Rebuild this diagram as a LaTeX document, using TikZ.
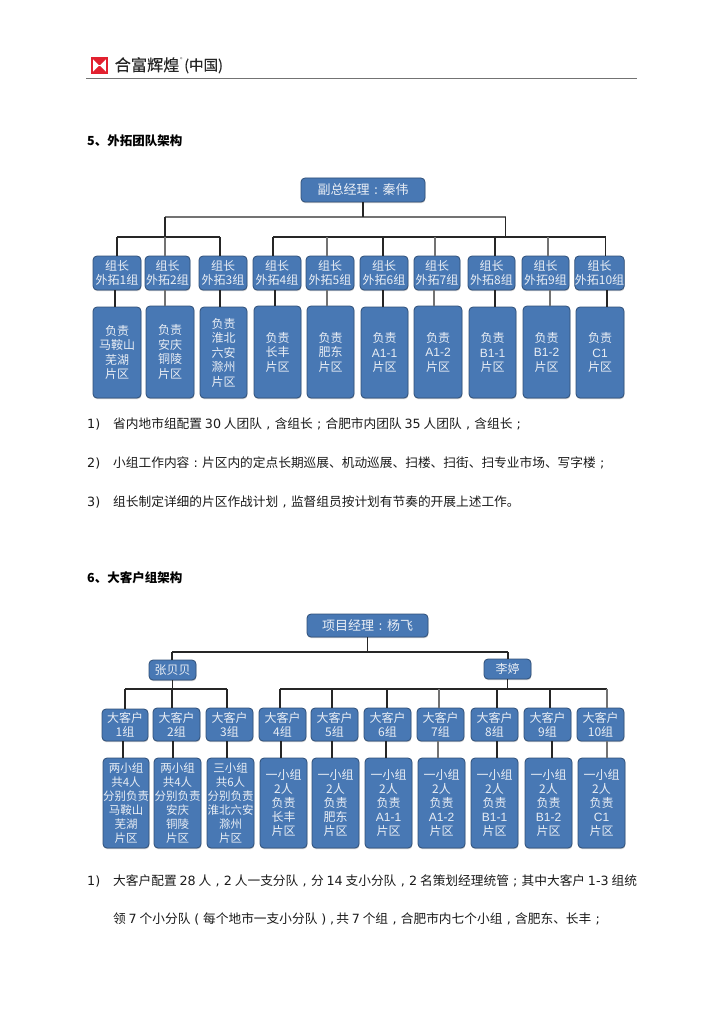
\documentclass[tikz,border=0pt]{standalone}
\usepackage{fontspec}
\usetikzlibrary{shadows}
\setmainfont{Noto Sans CJK SC}
\newfontfamily\lat{Liberation Sans}
\newfontfamily\numf{DejaVu Sans}
\newfontfamily\logof[FakeBold=0.35]{Noto Sans CJK SC}
\newcommand{\fc}[1]{\makebox[1em]{\numf #1}}
\definecolor{boxblue}{HTML}{4878B4}
\definecolor{boxedge}{HTML}{2F4F78}
\definecolor{boxtext}{HTML}{E9EEF5}
\definecolor{bodytext}{HTML}{1A1A1A}
\definecolor{logored}{HTML}{E2202F}
\tikzset{
  x=1pt,y=-1pt,
  orgbox/.style={draw=boxedge,fill=boxblue,rounded corners=4pt,line width=0.8pt,text=boxtext,align=center,inner sep=0pt,
    drop shadow={shadow xshift=0.4pt,shadow yshift=-1.2pt,fill=black!35,opacity=0.6},
    font=\fontsize{12}{14.5}\selectfont},
  tightbox/.style={orgbox,font=\fontsize{12}{14}\selectfont},
  widebox/.style={orgbox,font=\fontsize{11.5}{14}\selectfont},
  topbox/.style={orgbox,font=\fontsize{13}{15}\selectfont},
  darkline/.style={draw=black!85,line width=1.1pt},
  grayline/.style={draw=black!55,line width=1.2pt},
  plain/.style={anchor=base west,inner sep=0pt,text=bodytext,font=\fontsize{12.7}{14}\selectfont},
  head/.style={anchor=base west,inner sep=0pt,text=black,font=\fontsize{12.5}{14}\bfseries\selectfont},
}
\newcommand{\bx}[7]{\node[#6,minimum width=#4pt-#2pt,minimum height=#5pt-#3pt] (#1) at ({(#2+#4)/2},{(#3+#5)/2}) {#7};}
\begin{document}
\begin{tikzpicture}
\useasboundingbox (0,0) rectangle (724,1024);
% header
\fill[logored] (91,57) rectangle (108,74);
\fill[white] (92.8,58.8) rectangle (106.2,72.2);
\fill[logored] (92.8,58.8) -- (106.2,58.8) -- (100.3,64.8) -- (98.7,64.8) -- cycle;
\fill[logored] (92.8,72.2) -- (106.2,72.2) -- (100.3,66.2) -- (98.7,66.2) -- cycle;
\node[anchor=base west,inner sep=0pt,text=black!85,font=\fontsize{16.2}{18}\logof\selectfont] (logotext) at (114.5,71) {合富辉煌};
\node[anchor=west,inner sep=0pt,text=black!70,font=\fontsize{5}{6}\selectfont] (logomark) at (180,59.5) {®};
\node[anchor=base west,inner sep=0pt,text=black!85,font=\fontsize{14.5}{18}\logof\selectfont] (logocn) at (184,70.5) {(中国)};
\draw[black!55,line width=1pt] (86,78.5) -- (637,78.5);
% section 5
\node[head] (h5) at (87,145.5) {5、外拓团队架构};
\bx{top}{301}{178}{425}{202}{topbox}{副总经理\fc{:}秦伟}
\coordinate (busT) at (165,217);
\coordinate (busTr) at (505.7,217);
\coordinate (busL) at (117,237);
\coordinate (busLr) at (220,237);
\coordinate (busR) at (273,237);
\coordinate (busRr) at (605.7,237);
\bx{a1}{93}{256}{141}{290}{tightbox}{组长\\外拓1组}
\bx{a2}{145}{256}{190}{290}{tightbox}{组长\\外拓2组}
\bx{a3}{199}{256}{247}{290}{tightbox}{组长\\外拓3组}
\bx{a4}{253}{256}{301}{290}{tightbox}{组长\\外拓4组}
\bx{a5}{306}{256}{354}{290}{tightbox}{组长\\外拓5组}
\bx{a6}{360}{256}{408}{290}{tightbox}{组长\\外拓6组}
\bx{a7}{414}{256}{460}{290}{tightbox}{组长\\外拓7组}
\bx{a8}{468}{256}{515}{290}{tightbox}{组长\\外拓8组}
\bx{a9}{522}{256}{569}{290}{tightbox}{组长\\外拓9组}
\bx{a10}{576}{256}{623}{290}{tightbox}{组长\\外拓10组}
\bx{ra1}{93}{307}{141}{398}{orgbox}{负责\\马鞍山\\芜湖\\片区}
\bx{ra2}{146}{306}{194}{398}{orgbox}{负责\\安庆\\铜陵\\片区}
\bx{ra3}{200}{307}{247}{398}{orgbox}{负责\\淮北\\六安\\滁州\\片区}
\bx{ra4}{254}{306}{301}{398}{orgbox}{负责\\长丰\\片区}
\bx{ra5}{307}{306}{354}{398}{orgbox}{负责\\肥东\\片区}
\bx{ra6}{361}{307}{408}{398}{orgbox}{负责\\{\lat A1-1}\\片区}
\bx{ra7}{414}{306}{462}{398}{orgbox}{负责\\{\lat A1-2}\\片区}
\bx{ra8}{469}{307}{516}{398}{orgbox}{负责\\{\lat B1-1}\\片区}
\bx{ra9}{523}{306}{570}{398}{orgbox}{负责\\{\lat B1-2}\\片区}
\bx{ra10}{576}{307}{624}{398}{orgbox}{负责\\{\lat C1}\\片区}
\draw[grayline] (busT) -- (busTr);
\draw[darkline] (top.south) -- (top.south |- busT);
\draw[darkline] (busT) -- (busT |- busL);
\draw[darkline] (busTr) -- (busTr |- busR);
\draw[darkline] (busL) -- (busLr);
\draw[darkline] (busR) -- (busRr);
\foreach \n/\dx/\cx/\st in {1/117/115/darkline,2/165/165/grayline,3/220/220/darkline,4/273/275/darkline,5/327/327/grayline,6/383/383/darkline,7/435/434/grayline,8/495/495/darkline,9/548/550/grayline,10/605.7/607/darkline}{
  \coordinate (d) at (\dx,0);
  \coordinate (c) at (\cx,0);
  \draw[\st] (d |- busL) -- (d |- a\n.north);
  \draw[\st] (c |- a\n.south) -- (c |- ra\n.north);
}
\node[plain] (n1) at (87,428.5) {\numf 1)};
\node[plain] (p1) at (113,428.5) {省内地市组配置 {\numf 30} 人团队\fc{,}含组长\fc{;}合肥市内团队 {\numf 35} 人团队\fc{,}含组长\fc{;}};
\node[plain] (n2) at (87,467.5) {\numf 2)};
\node[plain] (p2) at (113,467.5) {小组工作内容\fc{:}片区内的定点长期巡展、机动巡展、扫楼、扫街、扫专业市场、写字楼\fc{;}};
\node[plain] (n3) at (87,506.5) {\numf 3)};
\node[plain] (p3) at (113,506.5) {组长制定详细的片区作战计划\fc{,}监督组员按计划有节奏的开展上述工作。};
% section 6
\node[head] (h6) at (87,582.5) {6、大客户组架构};
\bx{mgr}{307}{614}{428}{637}{topbox}{项目经理\fc{:}杨飞}
\coordinate (busM) at (172,652);
\coordinate (busMr) at (508,652);
\bx{zh}{149}{660}{196}{680}{orgbox}{张贝贝}
\bx{li}{484}{659}{531}{679}{orgbox}{李婷}
\coordinate (bus2L) at (125,689);
\coordinate (bus2Lr) at (227,689);
\coordinate (bus2R) at (280,689);
\coordinate (bus2Rr) at (607,689);
\bx{b1}{102}{709}{148}{741}{tightbox}{大客户\\1组}
\bx{b2}{153}{708}{200}{741}{tightbox}{大客户\\2组}
\bx{b3}{206}{708}{253}{741}{tightbox}{大客户\\3组}
\bx{b4}{259}{708}{306}{741}{tightbox}{大客户\\4组}
\bx{b5}{311}{708}{358}{741}{tightbox}{大客户\\5组}
\bx{b6}{364}{708}{411}{741}{tightbox}{大客户\\6组}
\bx{b7}{417}{708}{464}{741}{tightbox}{大客户\\7组}
\bx{b8}{471}{708}{518}{741}{tightbox}{大客户\\8组}
\bx{b9}{524}{708}{571}{741}{tightbox}{大客户\\9组}
\bx{b10}{577}{708}{624}{741}{tightbox}{大客户\\10组}
\bx{rb1}{103}{758}{149}{848}{widebox}{两小组\\共4人\\分别负责\\马鞍山\\芜湖\\片区}
\bx{rb2}{154}{758}{201}{848}{widebox}{两小组\\共4人\\分别负责\\安庆\\铜陵\\片区}
\bx{rb3}{207}{758}{254}{848}{widebox}{三小组\\共6人\\分别负责\\淮北六安\\滁州\\片区}
\bx{rb4}{260}{758}{307}{848}{tightbox}{一小组\\2人\\负责\\长丰\\片区}
\bx{rb5}{312}{758}{359}{848}{tightbox}{一小组\\2人\\负责\\肥东\\片区}
\bx{rb6}{365}{758}{412}{848}{tightbox}{一小组\\2人\\负责\\{\lat A1-1}\\片区}
\bx{rb7}{418}{758}{465}{848}{tightbox}{一小组\\2人\\负责\\{\lat A1-2}\\片区}
\bx{rb8}{471}{758}{518}{848}{tightbox}{一小组\\2人\\负责\\{\lat B1-1}\\片区}
\bx{rb9}{525}{758}{572}{848}{tightbox}{一小组\\2人\\负责\\{\lat B1-2}\\片区}
\bx{rb10}{578}{758}{625}{848}{tightbox}{一小组\\2人\\负责\\{\lat C1}\\片区}
\draw[darkline] (mgr.south) -- (mgr.south |- busM);
\draw[darkline] (busM) -- (busMr);
\draw[darkline] (busM) -- (busM |- zh.north);
\draw[darkline] (busMr) -- (busMr |- li.north);
\draw[darkline] (zh.south) -- (zh.south |- bus2L);
\draw[darkline] (li.south) -- (li.south |- bus2R);
\draw[darkline] (bus2L) -- (bus2Lr);
\draw[darkline] (bus2R) -- (bus2Rr);
\foreach \n/\dx/\cx/\st in {1/125/123/darkline,2/172/173/darkline,3/227/227/darkline,4/280/281/darkline,5/332/332/darkline,6/387/386/darkline,7/439/438/grayline,8/497/497/darkline,9/550/552/darkline,10/607/607/grayline}{
  \coordinate (d) at (\dx,0);
  \coordinate (c) at (\cx,0);
  \draw[\st] (d |- bus2L) -- (d |- b\n.north);
  \draw[\st] (c |- b\n.south) -- (c |- rb\n.north);
}
\node[plain] (n4) at (87,885.5) {\numf 1)};
\node[plain] (p4) at (113,885.5) {大客户配置 {\numf 28} 人\fc{,}{\numf 2} 人一支分队\fc{,}分 {\numf 14} 支小分队\fc{,}{\numf 2} 名策划经理统管\fc{;}其中大客户 {\numf 1-3} 组统};
\node[plain] (p5) at (113,923.5) {领 {\numf 7} 个小分队\fc{(}每个地市一支小分队\fc{)}{\numf ,\,}共 {\numf 7} 个组\fc{,}合肥市内七个小组\fc{,}含肥东、长丰\fc{;}};
\end{tikzpicture}
\end{document}
